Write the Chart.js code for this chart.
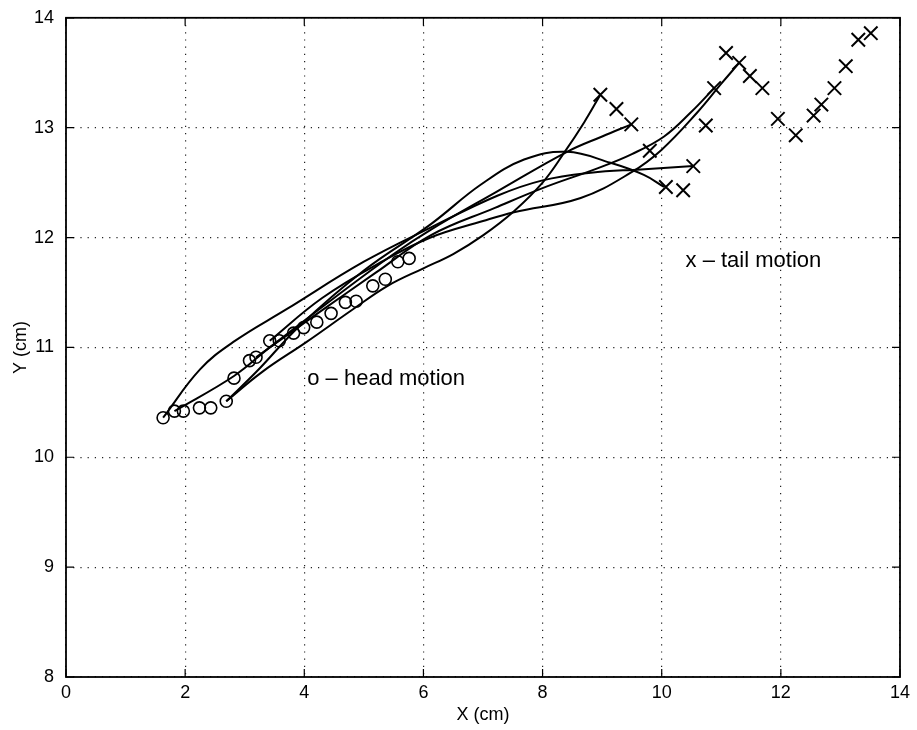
<!DOCTYPE html>
<html>
<head>
<meta charset="utf-8">
<script src="https://cdn.jsdelivr.net/npm/chart.js@4.4.1/dist/chart.umd.min.js"></script>
<style>
  html, body { margin: 0; padding: 0; background: #fff; }
  #wrap { width: 917px; height: 730px; }
</style>
</head>
<body>
<div id="wrap"><canvas id="chart" width="917" height="730"></canvas></div>
<script>
// head positions (circles)
const headX = [1.63, 1.82, 1.97, 2.24, 2.43, 2.69, 2.82, 3.08, 3.19, 3.42, 3.58, 3.82, 3.99, 4.21, 4.45, 4.69, 4.87, 5.15, 5.36, 5.57, 5.76];
const headY = [10.36, 10.42, 10.42, 10.45, 10.45, 10.51, 10.72, 10.88, 10.91, 11.06, 11.06, 11.13, 11.18, 11.23, 11.31, 11.41, 11.42, 11.56, 11.62, 11.78, 11.81];

// tail positions (crosses)
const tailX = [8.97, 9.24, 9.49, 9.80, 10.07, 10.36, 10.53, 10.74, 10.88, 11.08, 11.30, 11.48, 11.69, 11.95, 12.25, 12.55, 12.68, 12.90, 13.09, 13.30, 13.51];
const tailY = [13.30, 13.17, 13.03, 12.79, 12.46, 12.43, 12.65, 13.02, 13.36, 13.68, 13.59, 13.47, 13.36, 13.08, 12.93, 13.11, 13.21, 13.36, 13.56, 13.80, 13.86];

// body outlines, head -> tail
const bodyA = [[2.69, 10.51], [3.3, 10.78], [4.04, 11.05], [4.8, 11.34], [5.4, 11.56], [6.0, 11.72], [6.5, 11.85], [7.0, 12.02], [7.52, 12.24], [8.0, 12.5], [8.36, 12.77], [8.7, 13.05], [8.97, 13.30]];
const bodyB = [[1.63, 10.36], [2.25, 10.80], [2.81, 11.05], [3.71, 11.35], [5.0, 11.78], [6.12, 12.09], [7.24, 12.38], [8.0, 12.52], [8.81, 12.59], [9.65, 12.62], [10.53, 12.65]];
const bodyC = [[2.69, 10.51], [3.2, 10.78], [3.93, 11.2], [5.0, 11.7], [6.12, 12.12], [6.96, 12.48], [7.69, 12.71], [8.41, 12.78], [9.14, 12.68], [9.7, 12.57], [10.04, 12.46]];
const bodyD = [[1.82, 10.42], [2.82, 10.74], [3.42, 11.0], [4.5, 11.45], [5.5, 11.85], [6.12, 12.07], [7.24, 12.42], [8.41, 12.78], [9.0, 12.92], [9.49, 13.03]];
const bodyE = [[3.19, 10.91], [4.2, 11.3], [5.2, 11.68], [6.12, 12.02], [7.2, 12.27], [8.0, 12.45], [8.92, 12.63], [9.5, 12.76], [10.04, 12.92], [10.49, 13.14], [10.88, 13.36]];
const bodyF = [[3.42, 11.06], [4.3, 11.45], [5.3, 11.78], [6.12, 12.0], [7.0, 12.15], [7.52, 12.23], [8.64, 12.36], [9.48, 12.59], [10.0, 12.8], [10.6, 13.14], [11.0, 13.4], [11.30, 13.59]];

const bodies = [bodyA, bodyB, bodyC, bodyD, bodyE, bodyF];

const xTicks = [0, 2, 4, 6, 8, 10, 12, 14];
const yTicks = [8, 9, 10, 11, 12, 13, 14];

const notes = [
  { text: 'o \u2013 head motion', x: 4.05, y: 10.71 },
  { text: 'x \u2013 tail motion', x: 10.4, y: 11.79 }
];

const FONT = 'Helvetica, "Liberation Sans", Arial, sans-serif';

const toPts = (xs, ys) => xs.map((x, i) => ({ x, y: ys[i] }));

const datasets = bodies.map(b => ({
  data: b.map(p => ({ x: p[0], y: p[1] })),
  showLine: true,
  borderColor: '#000',
  borderWidth: 2,
  tension: 0.4,
  pointRadius: 0,
  fill: false
}));

datasets.push({
  data: toPts(headX, headY),
  showLine: false,
  pointStyle: 'circle',
  pointRadius: 6,
  pointBorderWidth: 1.6,
  pointBorderColor: '#000',
  pointBackgroundColor: 'rgba(0,0,0,0)'
});

datasets.push({
  data: toPts(tailX, tailY),
  showLine: false,
  pointStyle: 'crossRot',
  pointRadius: 9.5,
  pointBorderWidth: 2,
  pointBorderColor: '#000'
});

// box, inward ticks and text notes (matlab style)
const frame = {
  id: 'frame',
  afterDatasetsDraw(chart) {
    const { ctx, chartArea: a, scales: { x, y } } = chart;
    ctx.save();
    ctx.strokeStyle = '#000';
    ctx.lineWidth = 1.8;
    ctx.strokeRect(a.left, a.top, a.right - a.left, a.bottom - a.top);
    ctx.lineWidth = 1.2;
    ctx.beginPath();
    xTicks.forEach(v => {
      const px = x.getPixelForValue(v);
      ctx.moveTo(px, a.bottom); ctx.lineTo(px, a.bottom - 8);
      ctx.moveTo(px, a.top); ctx.lineTo(px, a.top + 8);
    });
    yTicks.forEach(v => {
      const py = y.getPixelForValue(v);
      ctx.moveTo(a.left, py); ctx.lineTo(a.left + 8, py);
      ctx.moveTo(a.right, py); ctx.lineTo(a.right - 8, py);
    });
    ctx.stroke();
    ctx.fillStyle = '#000';
    ctx.font = '22px ' + FONT;
    ctx.textBaseline = 'middle';
    notes.forEach(n => {
      ctx.fillText(n.text, x.getPixelForValue(n.x), y.getPixelForValue(n.y));
    });
    ctx.restore();
  }
};

new Chart(document.getElementById('chart'), {
  type: 'scatter',
  data: { datasets },
  options: {
    responsive: false,
    animation: false,
    events: [],
    layout: { padding: { top: 16, right: 17, left: 0, bottom: 0 } },
    plugins: { legend: { display: false }, tooltip: { enabled: false } },
    scales: {
      x: {
        min: 0, max: 14,
        afterFit: s => { s.height = 53; },
        afterBuildTicks: s => { s.ticks = xTicks.map(v => ({ value: v })); },
        grid: { color: '#222', lineWidth: 1.2, drawTicks: false },
        border: { display: false, dash: [1.2, 6] },
        ticks: { color: '#000', padding: 5, font: { family: FONT, size: 18 } },
        title: { display: true, text: 'X (cm)', color: '#000', padding: { top: 4 }, font: { family: FONT, size: 18 } }
      },
      y: {
        min: 8, max: 14,
        afterFit: s => { s.width = 66; },
        afterBuildTicks: s => { s.ticks = yTicks.map(v => ({ value: v })); },
        grid: { color: '#222', lineWidth: 1.2, drawTicks: false },
        border: { display: false, dash: [1.2, 6] },
        ticks: { color: '#000', padding: 7, font: { family: FONT, size: 18 }, callback: v => v + ' ' },
        title: { display: true, text: 'Y (cm)', color: '#000', padding: { top: 10, bottom: 0 }, font: { family: FONT, size: 18 } }
      }
    }
  },
  plugins: [frame]
});
</script>
</body>
</html>
